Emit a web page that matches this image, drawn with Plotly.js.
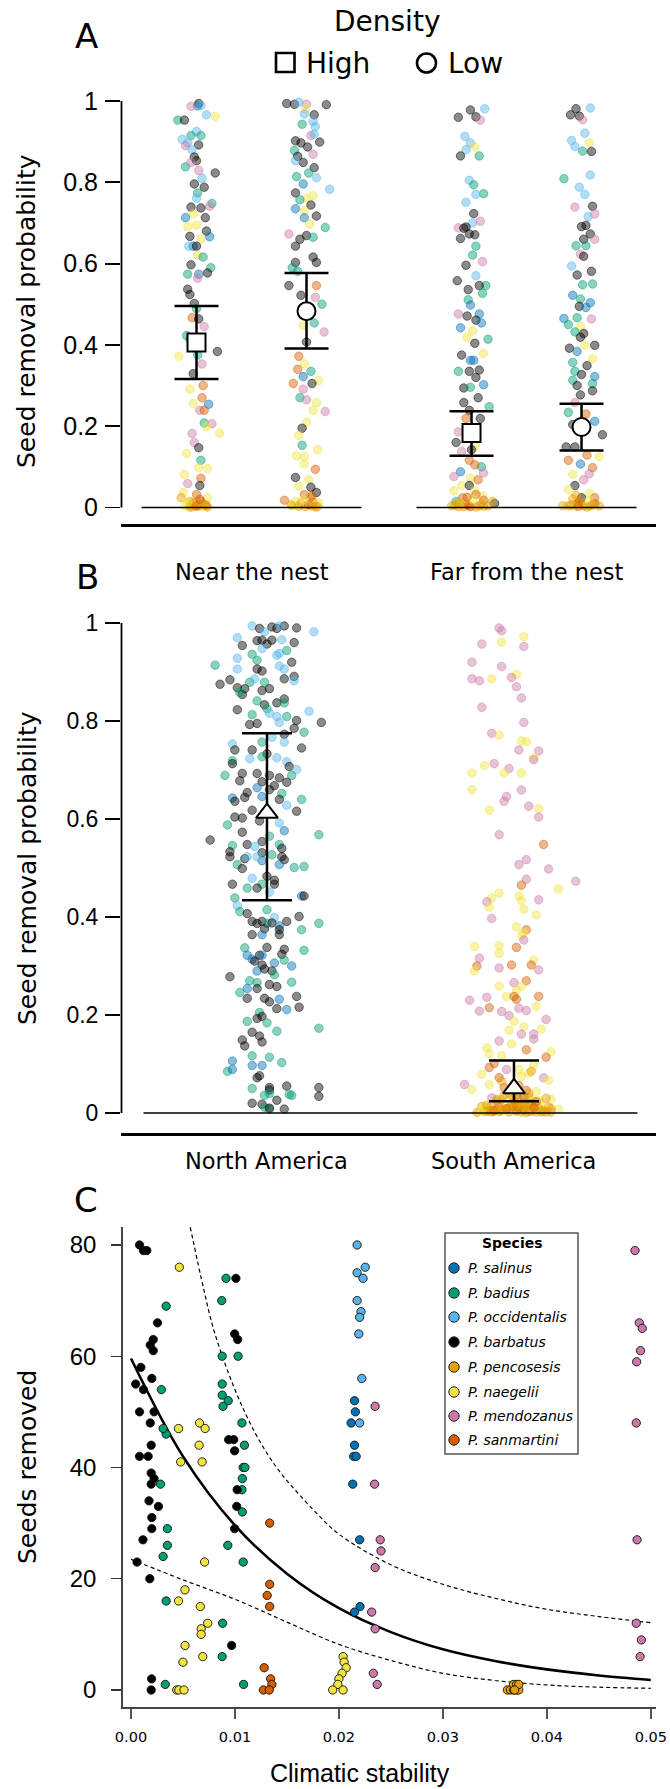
<!DOCTYPE html>
<html><head><meta charset="utf-8">
<script src="https://cdn.plot.ly/plotly-3.0.1.min.js"></script>
<style>html,body{margin:0;padding:0;background:#fff}#chart{width:670px;height:1789px}</style>
</head><body><div id="chart"></div>
<script>
// ---------- shared ----------
const speciesNames = ['P. salinus','P. badius','P. occidentalis','P. barbatus','P. pencosesis','P. naegelii','P. mendozanus','P. sanmartini'];
const speciesColors = ['#0072B2','#009E73','#56B4E9','#000000','#E69F00','#F0E442','#CC79A7','#D55E00'];

// ---------- Panel A : seed removal by density & distance ----------
const aGroupLabels = ['Near the nest','Far from the nest'];
const aGroupPos = [1.5, 4];
const aColX = [1, 2, 3.5, 4.5];
const aSymbols = ['square','circle','square','circle'];
const aMean  = [0.406, 0.483, 0.183, 0.198];
const aUpper = [0.496, 0.577, 0.237, 0.255];
const aLower = [0.316, 0.391, 0.127, 0.140];

const a1y = [.994,.988,.987,.989,.966,.962,.953,.953,.925,.915,.915,.906,.897,.89,.892,.88,.862,.853,.838,.849,.829,.823,.81,.796,.788,.774,.761,.748,.741,.739,.737,.722,.713,.713,.695,.691,.68,.666,.667,.66,.643,.643,.643,.621,.616,.597,.59,.577,.574,.574,.564,.537,.524,.502,.489,.467,.464,.445,.423,.414,.372,.375,.384,.353,.329,.3,.291,.27,.254,.256,.239,.239,.208,.206,.199,.183,.182,.16,.147,.133,.116,.098,.096,.081,.072,.059,.054,.037,.032,.024,.024,.015,.015,.009,.004,.004,.006,.002,.002,
 .001,.003,.008,.012,.02,.005,.001,.014];
const a1dx = [.02,.01,-.05,.04,.09,.17,-.17,-.11,0,-.05,.04,-.13,-.08,-.1,.02,-.04,-.02,0,-.1,-.05,.02,.17,.05,-.02,.07,.01,0,.14,.12,-.05,.04,-.03,-.1,.08,0,-.08,.09,.12,-.06,.04,-.03,-.07,0,.01,.06,-.05,.13,.1,-.08,.02,.01,-.08,-.06,-.02,0,-.04,.02,.07,-.09,-.06,-.16,.01,.19,.05,-.03,.06,-.06,.05,.11,-.03,.03,.07,.07,.14,.09,.21,-.04,-.02,.02,-.09,.04,.02,.1,-.11,.04,-.08,.03,-.12,0,-.14,.1,-.06,.04,-.02,-.1,.02,.08,-.04,.06,
 -.06,0,.05,-.03,.03,.09,.1,-.08];
const a1s = [3,0,6,2,2,5,1,3,2,1,1,2,2,6,3,2,3,3,1,6,6,3,2,3,3,1,2,1,6,3,3,5,0,3,5,5,3,0,3,5,0,2,3,5,1,3,1,3,1,0,6,3,3,3,1,7,3,6,1,1,5,1,3,6,3,7,5,7,0,5,6,7,1,6,5,5,6,6,3,5,1,5,5,5,7,6,3,5,7,4,5,4,7,4,5,4,7,4,5,
 4,7,4,4,7,4,4,5];

const a2y = [.994,.992,.997,.992,.991,.981,.966,.968,.95,.943,.937,.915,.918,.902,.897,.899,.887,.878,.864,.869,.849,.853,.836,.823,.814,.811,.796,.783,.774,.767,.761,.757,.744,.735,.73,.717,.713,.697,.689,.673,.669,.66,.643,.665,.616,.603,.603,.59,.581,.546,.546,.522,.517,.5,.454,.448,.432,.407,.372,.353,.34,.335,.322,.312,.305,.305,.291,.27,.258,.265,.239,.236,.21,.195,.177,.153,.142,.127,.125,.094,.107,.074,.068,.053,.05,.037,.032,.018,.015,.024,.011,.012,.004,.004,.002,
 .001,.003,.007,.013,.019,.002,.006,.028];
const a2dx = [-.18,-.11,-.07,0,.18,-.01,.07,-.02,.06,-.04,.08,.04,.07,-.1,-.05,.12,.01,-.11,-.08,.06,-.03,-.1,.07,.02,-.09,.09,-.03,.21,-.1,.06,0,-.06,.04,-.1,-.02,.09,-.02,.03,.17,-.16,0,-.06,-.1,.06,.06,.09,-.1,-.13,-.08,-.16,.09,-.05,.08,.14,.07,-.03,.16,0,-.07,-.02,-.08,.04,-.03,.11,-.12,.05,-.03,-.06,.09,0,.06,.17,0,-.04,-.07,-.04,.1,-.09,-.02,.08,-.02,-.1,.02,-.07,.04,.09,-.02,-.2,-.1,.03,-.05,.11,.05,-.12,-.01,
 .08,-.07,.02,.06,-.03,.1,-.14,.05];
const a2s = [3,3,2,6,3,5,3,2,2,1,2,6,2,3,3,3,3,1,3,6,3,2,3,1,1,2,0,2,3,5,5,1,3,0,5,3,0,5,1,6,3,3,3,1,3,3,3,1,1,3,7,3,6,1,1,5,6,3,7,5,7,1,0,5,7,3,6,1,5,6,5,6,5,3,5,1,5,5,5,7,5,3,5,5,3,3,7,7,5,4,4,5,4,5,4,
 4,4,7,4,5,4,4,7];

const a3y = [.96,.978,.961,.981,.953,.913,.897,.88,.887,.865,.865,.805,.794,.772,.77,.751,.723,.7,.704,.69,.662,.673,.671,.688,.687,.643,.621,.605,.596,.57,.558,.546,.536,.546,.527,.511,.476,.498,.471,.476,.461,.454,.442,.414,.434,.419,.404,.375,.379,.362,.362,.335,.335,.338,.32,.302,.294,.296,.27,.258,.248,.239,.219,.219,.186,.16,.151,.138,.142,.116,.1,.105,.088,.085,.076,.072,.068,.054,.054,.041,.041,.024,.028,.032,.015,.009,.018,.01,.004,.002,.002,.002,.004,.004,.015,.011,
 .001,.005,.008,.012,.02,.003,.006,.025];
const a3dx = [-.12,-.01,.04,.12,.08,-.06,-.01,-.05,.03,-.1,.07,-.02,.02,.11,.04,-.05,.02,.01,.08,-.05,-.1,-.02,.03,-.12,-.07,.04,.01,.1,-.05,.04,-.13,.13,-.03,.07,.1,-.03,-.12,-.01,-.04,.07,.04,.09,-.1,.15,.01,-.04,.03,-.09,.11,.02,-.01,-.12,-.02,.07,.04,.11,-.07,-.01,.06,-.07,.16,-.02,.08,-.05,-.12,-.14,.03,-.09,0,-.02,.09,.03,-.1,.11,-.16,-.01,.06,-.09,-.02,.03,-.16,-.08,.1,.04,-.14,-.05,.11,.21,-.18,-.12,-.07,-.01,.07,.15,.19,-.1,
 .04,-.03,.09,-.11,.01,.11,-.15,-.04];
const a3s = [3,3,3,2,6,2,2,2,5,3,1,2,1,1,2,2,3,2,6,3,3,3,3,6,3,1,1,6,3,2,3,1,3,3,1,1,6,0,3,0,3,0,0,1,5,5,3,3,5,0,0,1,3,3,3,0,3,1,3,3,1,3,3,7,6,3,5,6,3,7,1,7,0,6,6,5,7,5,3,5,5,7,5,7,1,4,7,3,4,4,4,7,4,4,4,5,
 4,7,4,4,5,4,4,7];

const a4y = [.966,.981,.963,.954,.983,.903,.888,.921,.897,.877,.876,.809,.818,.788,.77,.739,.741,.722,.716,.691,.694,.673,.66,.66,.644,.644,.623,.618,.594,.581,.572,.55,.548,.522,.513,.504,.495,.492,.465,.467,.464,.45,.445,.432,.428,.419,.399,.399,.392,.384,.366,.357,.349,.335,.327,.322,.313,.305,.3,.287,.277,.258,.234,.23,.212,.204,.179,.149,.149,.125,.129,.116,.107,.098,.081,.083,.068,.054,.044,.035,.024,.024,.021,.004,.004,.009,.004,.004,.004,.015,.002,
 .001,.006,.01,.013,.018,.003,.007,.03];
const a4dx = [-.1,-.05,-.02,.01,.08,-.09,-.06,.03,.07,.01,.09,-.16,.08,-.02,.03,-.06,.1,.12,.06,0,.04,.08,.12,.02,-.05,.04,-.01,.02,-.09,.09,-.04,.1,.01,-.08,-.01,.08,-.02,.04,-.16,-.04,.09,-.12,-.01,-.06,.02,-.01,.12,.03,-.11,-.04,.1,-.08,.05,-.06,0,.12,-.08,.1,-.04,.1,-.01,-.06,-.12,.04,.12,-.08,.19,-.06,-.14,.16,.05,-.12,-.01,.1,-.08,.07,.02,-.06,-.12,.07,0,.12,-.08,-.17,-.12,-.04,.02,.08,.16,-.02,-.06,
 .05,-.09,.12,-.01,.07,-.03,.1,-.05];
const a4s = [3,3,3,6,2,2,2,2,5,1,3,1,2,2,2,6,3,6,2,3,3,3,6,3,1,1,6,3,2,3,3,1,1,0,1,0,3,0,0,1,6,1,5,1,3,3,3,5,3,0,5,1,3,1,3,0,1,1,3,3,3,6,1,7,0,3,3,3,3,5,7,7,0,7,5,6,6,3,5,5,3,7,4,4,4,7,4,4,4,7,5,
 4,4,7,4,5,7,4,4];

// ---------- Panel B : seed removal by continent ----------
const bGroupLabels = ['North America','South America'];
const bColX = [1, 2];
const bMean  = [0.612, 0.050];
const bUpper = [0.775, 0.107];
const bLower = [0.434, 0.024];

const bNy = [.994,.989,.982,.992,.989,.994,.990,.982,.994,
 .970,.964,.965,.965,.966,.960,.954,.957,
 .936,.948,.938,.944,.914,.928,.924,.934,.920,
 .906,.906,.902,.912,.906,.891,.886,.875,.884,.879,.886,.879,.882,
 .868,.866,.862,.866,.854,.858,.837,.845,.841,.833,.837,.825,.823,.813,.816,.809,
 .820,.793,.795,.797,.809,.801,.797,.777,.757,.773,.785,.753,.767,.757,
 .741,.741,.733,.745,.719,.723,.727,.725,.717,.707,.701,
 .713,.689,.693,.693,.689,.684,.689,.678,.676,.668,.675,
 .654,.664,.660,.652,.643,.644,.646,.640,.640,.636,.616,.618,.612,.628,
 .604,.602,.596,.592,.576,.588,.573,.565,.557,.548,.554,.548,.546,.544,.540,
 .533,.523,.531,.527,.523,.519,.568,.507,.515,.517,
 .499,.523,.523,.507,.501,.503,.479,.483,.475,.467,.467,.459,.467,
 .459,.439,.451,.443,.443,.423,.411,.415,.407,.399,.391,.387,.391,.387,.388,.382,.401,.391,
 .387,.376,.374,.364,.364,.364,.374,.337,.338,.334,.332,.322,.314,.322,.322,.324,
 .310,.302,.306,.312,.300,.290,.290,.294,.278,.282,.270,.266,.267,.262,.258,.254,.246,.254,
 .234,.234,.227,.232,.238,.213,.211,.216,.205,.197,.193,.187,.167,.165,.184,.173,.157,.149,.137,.145,
 .117,.114,.106,.097,.097,.103,.085,.089,.072,.076,
 .050,.052,.047,.055,.052,.034,.036,.040,.038,.036,.020,.018,.026,.012,.008,.010,.008];
const bNdx = [-.06,-.03,-.01,.02,.04,.07,.12,.19,.05,
 -.12,-.04,-.02,.02,.06,.11,-.1,0,
 -.06,-.02,.05,.08,-.21,-.12,-.04,.04,.1,
 -.12,-.04,-.02,.05,.07,.11,.07,-.19,-.15,-.07,-.05,-.01,.11,
 -.12,-.09,-.02,.01,-.1,-.11,.04,.07,-.04,-.01,.07,0,-.12,-.06,.01,.04,
 .17,-.07,-.04,.05,.08,.12,.22,.15,-.02,.07,.11,-.14,.02,.07,
 -.13,-.06,0,.14,-.14,-.07,-.02,.04,.08,.09,.12,
 -.14,-.17,-.1,-.04,.01,.05,.1,-.11,-.02,.03,.08,
 -.08,-.04,.01,.06,-.14,-.09,-.02,.05,.14,-.13,.12,-.06,.01,.08,
 -.13,-.1,-.03,.05,.07,-.16,-.1,.01,-.23,-.08,-.02,.05,-.14,-.05,.06,
 -.15,-.15,-.02,.02,.06,-.09,.21,-.12,-.02,.07,
 -.1,-.08,-.04,.05,.11,.15,-.06,0,.03,-.14,-.02,-.08,.03,
 -.04,-.13,.01,.14,.15,-.12,-.11,0,-.08,.03,-.06,-.04,-.02,0,.02,.05,.13,.08,
 .21,-.01,.05,-.02,.05,-.06,.14,-.09,0,.07,.15,-.03,-.06,-.02,-.08,.06,
 -.05,-.02,.03,.07,.1,-.04,.02,-.01,-.15,.03,-.07,-.04,.1,.01,.04,-.08,-.11,-.04,
 -.08,-.01,.01,.05,.12,.04,.08,.13,-.03,-.02,-.04,-.08,.04,-.06,0,.21,-.03,-.1,-.09,-.02,
 -.06,.01,-.14,-.06,-.02,.06,-.16,-.14,-.04,-.03,
 -.06,.01,.01,.08,.21,.21,-.01,.01,.09,.1,-.06,-.02,.04,-.01,.01,.01,.07];
const bNs = [2,3,2,3,3,3,3,2,2,
 2,3,3,3,2,3,3,3,
 1,2,2,1,1,2,1,2,3,
 2,3,3,2,2,3,3,3,3,1,2,1,2,
 3,3,3,3,3,1,3,3,1,3,1,1,3,1,2,2,
 2,3,3,2,1,3,3,1,1,3,3,2,2,2,
 3,3,3,3,1,2,1,2,2,3,2,
 3,1,3,3,3,3,1,3,3,3,3,
 3,0,3,1,0,3,0,3,1,3,3,3,2,2,
 3,3,3,2,0,1,3,1,3,3,3,1,1,2,3,
 3,3,3,1,3,3,1,1,0,3,
 3,2,2,0,1,1,2,3,3,3,1,1,3,
 3,1,2,0,3,2,1,1,3,2,3,3,3,1,3,0,3,3,
 1,3,3,0,3,3,1,1,3,3,1,3,0,0,0,3,
 3,3,0,1,0,0,3,3,3,1,1,1,1,3,3,0,1,3,
 3,3,3,0,3,3,0,3,1,3,3,1,1,3,1,1,3,3,3,3,
 1,1,0,0,0,1,1,0,3,3,
 1,3,3,3,3,3,1,1,1,1,3,3,3,1,1,3,3];

const bSy = [.990,.984,.972,.957,.961,.952,.920,.911,.895,.889,
 .886,.882,.886,.870,.847,.828,.797,.775,.771,.759,
 .758,.739,.741,.725,.721,.709,.713,.703,.694,.694,
 .694,.659,.660,.646,.636,.626,.621,.618,.604,.568,
 .548,.517,.507,.498,.473,.477,.465,.457,.449,.439,
 .431,.443,.433,.435,.420,.416,.404,.397,.380,.374,
 .368,.362,.353,.340,.342,.338,.326,.316,.312,.302,
 .302,.300,.296,.290,.292,.270,.266,.259,.258,.250,
 .230,.236,.238,.238,.232,.238,.218,.215,.208,.207,
 .214,.209,.199,.191,.187,.176,.169,.161,.171,.161,
 .151,.147,.141,.133,.129,.125,.121,.117,.114,.101,
 .097,.093,.089,.089,.081,.072,.079,.072,.067,.058,
 .048,.058,.052,.056,.044,.031,.028,.036,.036,.032,
 .024,.020,.020,.020,.014,.012,.010,.012,.012,.004,
 .004,.004,.002,.004,.002,.004,.002,.004,.008,.004,
 .002,.014,.018,.006,.008,.006,.01,.016,.022,.026,
 .003,.003,.005,.012,.03,.04,.046,.06,.065,.075,
 .085,.002,.009,
 .001,.003,.005,.007,.01,.013,.017,.02,.025,.03,
 .002,.004,.006,.009,.012,.015,.019,.023,.028,.035,
 .001,.002,.004,.008,.011,.016,.021,.027,.033,.04];
const bSdx = [-.06,-.05,.04,-.13,-.05,.04,-.17,-.05,.01,-.01,
 -.17,-.14,-.09,.01,.03,-.13,.04,-.09,-.06,.03,
 .05,.1,.02,.08,.08,-.12,-.08,-.02,-.04,.03,
 -.17,.03,-.17,-.03,-.04,.06,.1,-.1,.1,-.06,
 .12,.05,.02,.14,.25,.05,.03,.18,-.06,-.09,
 -.11,.02,.03,.1,-.1,.04,.09,-.09,.01,.05,
 .04,.03,.04,-.16,-.06,.01,-.06,-.14,.08,.07,
 -.01,-.15,-.06,-.16,.1,.05,0,-.06,.03,.01,
 -.18,-.11,-.03,0,.01,.1,.09,-.1,-.14,-.05,
 .02,.05,-.02,.13,0,.04,-.02,.08,.11,.03,
 .08,-.06,-.01,-.11,.05,.15,-.1,-.05,.13,-.08,
 .08,-.1,-.03,.02,.06,.12,-.13,-.06,.14,-.2,
 -.17,-.1,-.04,.02,.09,-.09,.15,-.04,.01,.06,
 -.07,-.01,.04,.11,-.13,-.06,.02,.08,.14,-.11,
 -.08,-.05,-.02,.01,.03,.06,.09,.12,.18,-.14,
 .13,0,.06,-.1,-.03,.04,.1,-.09,0,.08,
 -.06,.07,.11,-.12,.02,-.02,.05,0,-.05,.03,
 .07,-.09,.15,
 -.15,-.12,-.08,-.05,-.02,.01,.04,.07,.1,.13,
 .15,-.1,-.06,-.03,0,.03,.06,.09,-.07,-.01,
 .05,.11,-.13,-.04,.08,-.11,.02,-.05,.04,.06];
const bSs = [6,6,5,6,5,6,6,6,5,6,
 6,6,5,6,6,6,6,6,5,5,
 5,6,6,5,6,5,6,6,5,5,
 5,6,5,6,6,6,5,5,6,6,
 7,6,6,6,6,6,7,5,5,5,
 6,5,5,6,5,5,5,6,5,7,
 5,5,6,5,5,7,5,6,5,7,
 7,7,6,5,6,7,6,5,5,5,
 6,6,5,7,7,7,5,7,6,6,
 6,6,6,6,5,5,5,6,5,6,
 6,6,5,5,7,5,5,5,7,7,
 5,7,6,5,5,6,5,7,5,6,
 5,5,7,7,5,6,5,4,7,4,
 4,4,4,5,4,7,4,4,4,4,
 4,5,4,7,4,4,4,4,5,5,
 4,7,4,4,4,7,4,4,4,5,
 4,4,4,5,4,4,7,4,4,5,
 4,4,4,
 4,4,7,4,4,7,4,4,5,4,
 4,4,4,7,4,4,4,7,4,4,
 4,4,5,4,7,4,4,4,7,4];

// ---------- Panel C : seeds removed vs climatic stability ----------
const cSalinusX = [.0215,.02158,.02117,.0215,.02142,.02166,.02133,.02199,.02203,.0215];
const cSalinusY = [52,50,48,44,42,42,37,27,15,14];
const cBadiusX = [.00338,.00292,.00338,.00309,.00284,.0035,.0035,.00309,.00338,.0033,.00914,.00873,.00877,.00877,.00877,.00935,.00885,.0103,.01067,.01091,.01079,.01096,.01071,.01067,.01071,.00931,.01079,.00881,.00877,.01083];
const cBadiusY = [69,54,46,47,37,29,26,24,16,1,74,70,60,55,53,52,51,60,48,44,40,40,38,36,32,26,23,12,6,1];
const cOccidentalisX = [.02175,.02175,.02253,.02232,.02175,.02212,.02199,.02191,.0222,.02199];
const cOccidentalisY = [80,75,76,74,70,68,67,64,56,48];
const cBarbatusX = [.00082,.0012,.00152,.00255,.00214,.00185,.00214,.00095,.00045,.0012,.002,.00082,.00222,.00185,.00194,.00082,.00165,.00194,.00222,.00194,.00173,.00264,.002,.002,.00115,.00058,.00181,.00198,.00194,.00997,.01009,.00997,.01026,.00939,.00988,.00997,.01021,.01017,.00968];
const cBarbatusY = [80,79,79,66,63,62,61,58,55,54,56,50,50,48,44,42,42,39,38,37,34,33,31,29,27,23,20,2,0,29,74,64,63,45,45,43,36,33,8];
const cPencosesisX = [.0362,.0365,.0368,.0371,.0373,.0368,.0371,.0373,.0369];
const cPencosesisY = [0,0,0,0,0,1,1,1,0];
const cNaegeliiX = [.00465,.00457,.00478,.00659,.00713,.00655,.00684,.00708,.00519,.00457,.00667,.00738,.00675,.00675,.0052,.005,.0069,.0044,.0046,.0051,.0204,.0205,.0207,.0203,.02,.0199,.0194,.0204];
const cNaegeliiY = [76,47,41,48,47,44,41,23,18,16,15,12,11,10,8,5,6,0,0,0,6,5,4,3,2,1,0,0];
const cMendozanusX = [.04848,.04889,.04918,.04901,.04864,.0486,.04868,.0486,.04909,.04897,.02348,.02343,.02397,.02405,.02348,.02315,.02348,.02331,.02368];
const cMendozanusY = [79,66,65,61,59,48,27,12,9,6,51,37,27,25,22,14,11,3,1];
const cSanmartiniX = [.01334,.01334,.0131,.01334,.01281,.01343,.01355,.01273,.0133];
const cSanmartiniY = [30,19,17,15,4,2,1,0,0];

// fitted model and confidence band
const fitX   = [0,.005,.01,.015,.02,.025,.03,.035,.04,.045,.05];
const fitY   = [59.6,42.0,29.6,20.9,14.7,10.4,7.3,5.2,3.7,2.6,1.8];
const upperX = [.0057,.007,.008,.01,.012,.014,.016,.018,.02,.025,.03,.035,.04,.045,.05];
const upperY = [83.2,72,64.5,54,46,40,35.5,31.5,28,22.5,19,16.5,14.5,13.2,12.1];
const lowerX = [0,.005,.01,.015,.02,.025,.03,.035,.04,.045,.05];
const lowerY = [23.5,19.8,16.3,12.2,8.2,5.3,3.0,1.7,0.9,0.5,0.3];

const cTickVals = [0,.01,.02,.03,.04,.05];
const cTickText = ['0.00','0.01','0.02','0.03','0.04','0.05'];

// ---------- helpers ----------
const W = 670, H = 1789;
const px = v => v / W;
const py = v => 1 - v / H;
function rgba(hex, a){
  const n = parseInt(hex.slice(1),16);
  return 'rgba('+((n>>16)&255)+','+((n>>8)&255)+','+(n&255)+','+a+')';
}
function jitter(xc, ys, dxs, ss, xa, ya){
  const n = Math.min(ys.length, dxs.length, ss.length);
  const X=[],Y=[],C=[],L=[];
  for(let i=0;i<n;i++){
    X.push(xc+dxs[i]); Y.push(ys[i]);
    C.push(rgba(speciesColors[ss[i]],0.46));
    L.push(rgba(speciesColors[ss[i]],0.6));
  }
  return {type:'scatter',mode:'markers',x:X,y:Y,xaxis:xa,yaxis:ya,cliponaxis:false,hoverinfo:'skip',showlegend:false,
    marker:{size:8.5,color:C,line:{width:0.8,color:L}}};
}
function meanTrace(xs, m, up, lo, sym, size, xa, ya, cap){
  return {type:'scatter',mode:'markers',x:xs,y:m,xaxis:xa,yaxis:ya,cliponaxis:false,showlegend:false,
    error_y:{type:'data',symmetric:false,array:up.map((u,i)=>u-m[i]),arrayminus:lo.map((l,i)=>m[i]-l),
      color:'#000',thickness:2.5,width:cap},
    marker:{symbol:sym,size:size,color:'#fff',line:{width:2,color:'#000'}}};
}

const traces = [];
[[a1y,a1dx,a1s],[a2y,a2dx,a2s],[a3y,a3dx,a3s],[a4y,a4dx,a4s]].forEach((d,i)=>{
  traces.push(jitter(aColX[i], d[0], d[1], d[2], 'x', 'y'));
});
traces.push(meanTrace(aColX, aMean, aUpper, aLower, aSymbols, 18, 'x', 'y', 22));

traces.push(jitter(bColX[0], bNy, bNdx, bNs, 'x2', 'y2'));
traces.push(jitter(bColX[1], bSy, bSdx, bSs, 'x2', 'y2'));
traces.push(meanTrace(bColX, bMean, bUpper, bLower, ['triangle-up','triangle-up'], 19, 'x2', 'y2', 25));

// panel C lines
traces.push({type:'scatter',mode:'lines',x:upperX,y:upperY,xaxis:'x3',yaxis:'y3',showlegend:false,hoverinfo:'skip',
  line:{color:'#000',width:1.2,dash:'4px,3px',shape:'spline'}});
traces.push({type:'scatter',mode:'lines',x:lowerX,y:lowerY,xaxis:'x3',yaxis:'y3',showlegend:false,hoverinfo:'skip',
  line:{color:'#000',width:1.2,dash:'4px,3px',shape:'spline'}});
traces.push({type:'scatter',mode:'lines',x:fitX,y:fitY,xaxis:'x3',yaxis:'y3',showlegend:false,hoverinfo:'skip',
  line:{color:'#000',width:2.6,shape:'spline'}});

const cSeries = [[cSalinusX,cSalinusY],[cBadiusX,cBadiusY],[cOccidentalisX,cOccidentalisY],[cBarbatusX,cBarbatusY],
  [cPencosesisX,cPencosesisY],[cNaegeliiX,cNaegeliiY],[cMendozanusX,cMendozanusY],[cSanmartiniX,cSanmartiniY]];
cSeries.forEach((d,i)=>{
  traces.push({type:'scatter',mode:'markers',x:d[0],y:d[1],xaxis:'x3',yaxis:'y3',name:speciesNames[i],showlegend:false,cliponaxis:false,
    marker:{size:8.3,color:speciesColors[i],line:{width:0.9,color:'#111'}}});
});

// ---------- layout ----------
const DV = 'DejaVu Sans', LS = 'Liberation Sans';
const annotations = [];
const shapes = [];
function ann(text,x,y,size,opts){
  annotations.push(Object.assign({text:text,x:x,y:y,xref:'paper',yref:'paper',showarrow:false,
    xanchor:'center',yanchor:'middle',font:{family:DV,size:size,color:'#000'}},opts||{}));
}
// panel letters
ann('A',px(86),py(36),34);
ann('B',px(87),py(577),34);
ann('C',px(86),py(1200),34);
// density legend
ann('Density',px(387),py(22),28);
ann('High',px(304),py(63),28,{xanchor:'left'});
ann('Low',px(446),py(63),28,{xanchor:'left'});
shapes.push({type:'rect',xref:'paper',yref:'paper',x0:px(276),x1:px(294.5),y0:py(72),y1:py(53),line:{width:2.6,color:'#000'},fillcolor:'#fff'});
shapes.push({type:'circle',xref:'paper',yref:'paper',x0:px(417),x1:px(436),y0:py(72.5),y1:py(53.5),line:{width:2.6,color:'#000'},fillcolor:'#fff'});
// y titles
ann('Seed removal probability',px(27),py(311),25,{textangle:-90});
ann('Seed removal probability',px(27),py(868),25,{textangle:-90});
ann('Seeds removed',px(27),py(1467),25,{textangle:-90});
ann('Climatic stability',px(360),py(1773),25,{font:{family:LS,size:25,color:'#000'}});
// category labels
aGroupLabels.forEach((t,i)=>annotations.push({text:t,x:aGroupPos[i],xref:'x',y:py(572),yref:'paper',showarrow:false,
  xanchor:'center',yanchor:'middle',font:{family:DV,size:22.5,color:'#000'}}));
bGroupLabels.forEach((t,i)=>annotations.push({text:t,x:bColX[i],xref:'x2',y:py(1161),yref:'paper',showarrow:false,
  xanchor:'center',yanchor:'middle',font:{family:DV,size:22.5,color:'#000'}}));

// zero reference segments and left axis lines
[[0.5,2.5],[3,5]].forEach(s=>shapes.push({type:'line',xref:'x',yref:'y',x0:s[0],x1:s[1],y0:0,y1:0,line:{width:1.5,color:'#000'}}));
shapes.push({type:'line',xref:'x2',yref:'y2',x0:0.5,x1:2.5,y0:0,y1:0,line:{width:1.5,color:'#000'}});
shapes.push({type:'line',xref:'paper',yref:'y',x0:px(121.5),x1:px(121.5),y0:0,y1:1,line:{width:1.8,color:'#000'}});
shapes.push({type:'line',xref:'paper',yref:'y2',x0:px(121.5),x1:px(121.5),y0:0,y1:1,line:{width:1.8,color:'#000'}});

// species legend (panel C)
shapes.push({type:'rect',xref:'paper',yref:'paper',x0:px(445),x1:px(578),y0:py(1454),y1:py(1233),line:{width:1.5,color:'#555'},fillcolor:'#fff',layer:'below'});
ann('<b>Species</b>',px(512),py(1243),14);
const legY = [1268,1293,1317,1342,1367,1392,1416,1440];
speciesNames.forEach((nm,i)=>{
  shapes.push({type:'circle',xref:'paper',yref:'paper',xsizemode:'pixel',ysizemode:'pixel',xanchor:px(454),yanchor:py(legY[i]),
    x0:-5.2,x1:5.2,y0:-5.2,y1:5.2,fillcolor:speciesColors[i],line:{width:1,color:'#222'}});
  ann('<i>'+nm+'</i>',px(466),py(legY[i]),14,{xanchor:'left'});
});

const layout = {
  width:W, height:H, margin:{l:0,r:0,t:0,b:0}, paper_bgcolor:'#fff', plot_bgcolor:'rgba(0,0,0,0)',
  showlegend:false, font:{family:DV,color:'#000'},
  xaxis:{domain:[px(121),px(656)],range:[0.3136,5.177],anchor:'y',showline:true,linewidth:2.5,linecolor:'#000',
    ticks:'',showticklabels:false,showgrid:false,zeroline:false},
  yaxis:{domain:[py(524),py(90)],range:[-0.0406,1.0271],anchor:'x',showline:false,ticks:'outside',ticklen:15,tickwidth:1.8,tickcolor:'#000',
    tickvals:[0,.2,.4,.6,.8,1],ticktext:['0','0.2','0.4','0.6','0.8','1'],tickfont:{family:LS,size:25,color:'#000'},
    showgrid:false,zeroline:false,ticklabelstandoff:2},
  xaxis2:{domain:[px(121),px(656)],range:[0.409,2.575],anchor:'y2',showline:true,linewidth:2.5,linecolor:'#000',
    ticks:'',showticklabels:false,showgrid:false,zeroline:false},
  yaxis2:{domain:[py(1133),py(603)],range:[-0.0408,1.0408],anchor:'x2',showline:false,ticks:'outside',ticklen:15,tickwidth:1.8,tickcolor:'#000',
    tickvals:[0,.2,.4,.6,.8,1],ticktext:['0','0.2','0.4','0.6','0.8','1'],tickfont:{family:LS,size:23,color:'#000'},
    showgrid:false,zeroline:false,ticklabelstandoff:2},
  xaxis3:{domain:[px(123),px(656)],range:[-0.00077,0.0505],anchor:'y3',showline:true,linewidth:1.8,linecolor:'#444',
    ticks:'outside',ticklen:10,tickwidth:1.6,tickcolor:'#555',tickvals:cTickVals,ticktext:cTickText,
    tickfont:{family:DV,size:14.5,color:'#000'},showgrid:false,zeroline:false,ticklabelstandoff:6},
  yaxis3:{domain:[py(1707),py(1227)],range:[-3.06,83.23],anchor:'x3',showline:true,linewidth:1.8,linecolor:'#444',
    ticks:'outside',ticklen:10,tickwidth:1.4,tickcolor:'#333',tickvals:[0,20,40,60,80],
    tickfont:{family:LS,size:24,color:'#000'},showgrid:false,zeroline:false,ticklabelstandoff:10},
  annotations:annotations, shapes:shapes
};

Plotly.newPlot('chart', traces, layout, {staticPlot:true, displayModeBar:false});
</script></body></html>
